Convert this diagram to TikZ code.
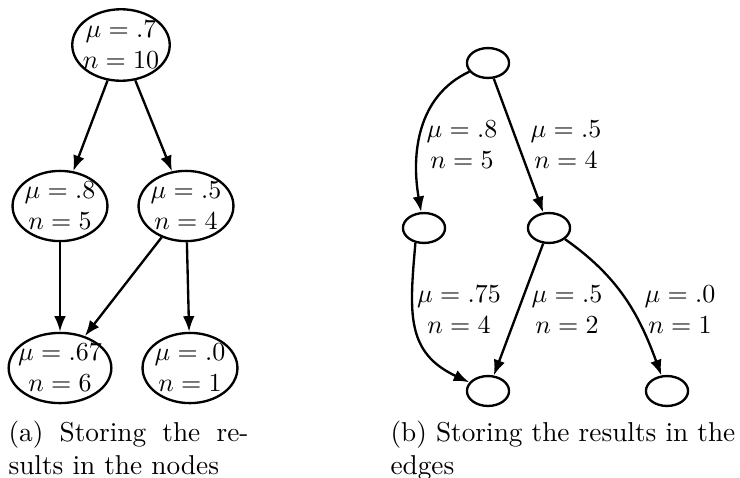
\documentclass[tikz,border=0pt]{standalone}
\usetikzlibrary{arrows.meta,shapes.geometric}
\begin{document}
\begin{tikzpicture}[x=0.3846pt,y=-0.3846pt,
  bignode/.style={draw,ellipse,line width=0.9pt,inner sep=0pt,minimum width=36.5pt,minimum height=27pt},
  smallnode/.style={draw,ellipse,line width=0.9pt,inner sep=0pt,minimum width=16.2pt,minimum height=11.5pt},
  val/.style={align=center,inner sep=0pt},
  arr/.style={line width=0.9pt,-{Latex[length=6pt,width=4.5pt]}},
  captext/.style={anchor=base west,inner sep=0pt,font=\fontsize{10.5}{13}\selectfont}]
\useasboundingbox (0,0) rectangle (740,477);
% (a)
\node[bignode,minimum width=37.5pt,minimum height=27.5pt] (a1) at (121,45) {};
\node[val] (a1t) at (a1) {$\mu=.7$\\$n=10$};
\node[bignode] (a2) at (60,206) {};
\node[val] (a2t) at (a2) {$\mu=.8$\\$n=5$};
\node[bignode] (a3) at (186,206) {};
\node[val] (a3t) at (a3) {$\mu=.5$\\$n=4$};
\node[bignode,minimum width=39.5pt] (a4) at (60,368) {};
\node[val] (a4t) at (a4) {$\mu=.67$\\$n=6$};
\node[bignode] (a5) at (190,368) {};
\node[val] (a5t) at (a5) {$\mu=.0$\\$n=1$};
\draw[arr] (a1) -- (a2);
\draw[arr] (a1) -- (a3);
\draw[arr] (a2) -- (a4);
\draw[arr] (a3) -- (a4);
\draw[arr] (a3) -- (a5);
\node[captext] (capa1) at (8,441) {\makebox[92.3pt][s]{(a) Storing the re-}};
\node[captext] (capa2) at (8,474) {sults in the nodes};
% (b)
\node[smallnode] (b1) at (488,63) {};
\node[smallnode] (b2) at (424,228) {};
\node[smallnode] (b3) at (549,228) {};
\node[smallnode] (b4) at (488,391) {};
\node[smallnode] (b5) at (667,391) {};
\draw[arr] (b1) to[out=205,in=100] (b2);
\draw[arr] (b1) -- (b3);
\draw[arr] (b2.240) to[out=-95,in=155,looseness=1.2] (b4);
\draw[arr] (b3) -- (b4);
\draw[arr] (b3) to[out=-35,in=110] (b5);
\node[val] (l1) at (462,145) {$\mu=.8$\\$n=5$};
\node[val] (l2) at (566,145) {$\mu=.5$\\$n=4$};
\node[val] (l3) at (459,310) {$\mu=.75$\\$n=4$};
\node[val] (l4) at (567,310) {$\mu=.5$\\$n=2$};
\node[val] (l5) at (680,310) {$\mu=.0$\\$n=1$};
\node[captext] (capb1) at (390,441) {(b) Storing the results in the};
\node[captext] (capb2) at (390,474) {edges};
\end{tikzpicture}
\end{document}
